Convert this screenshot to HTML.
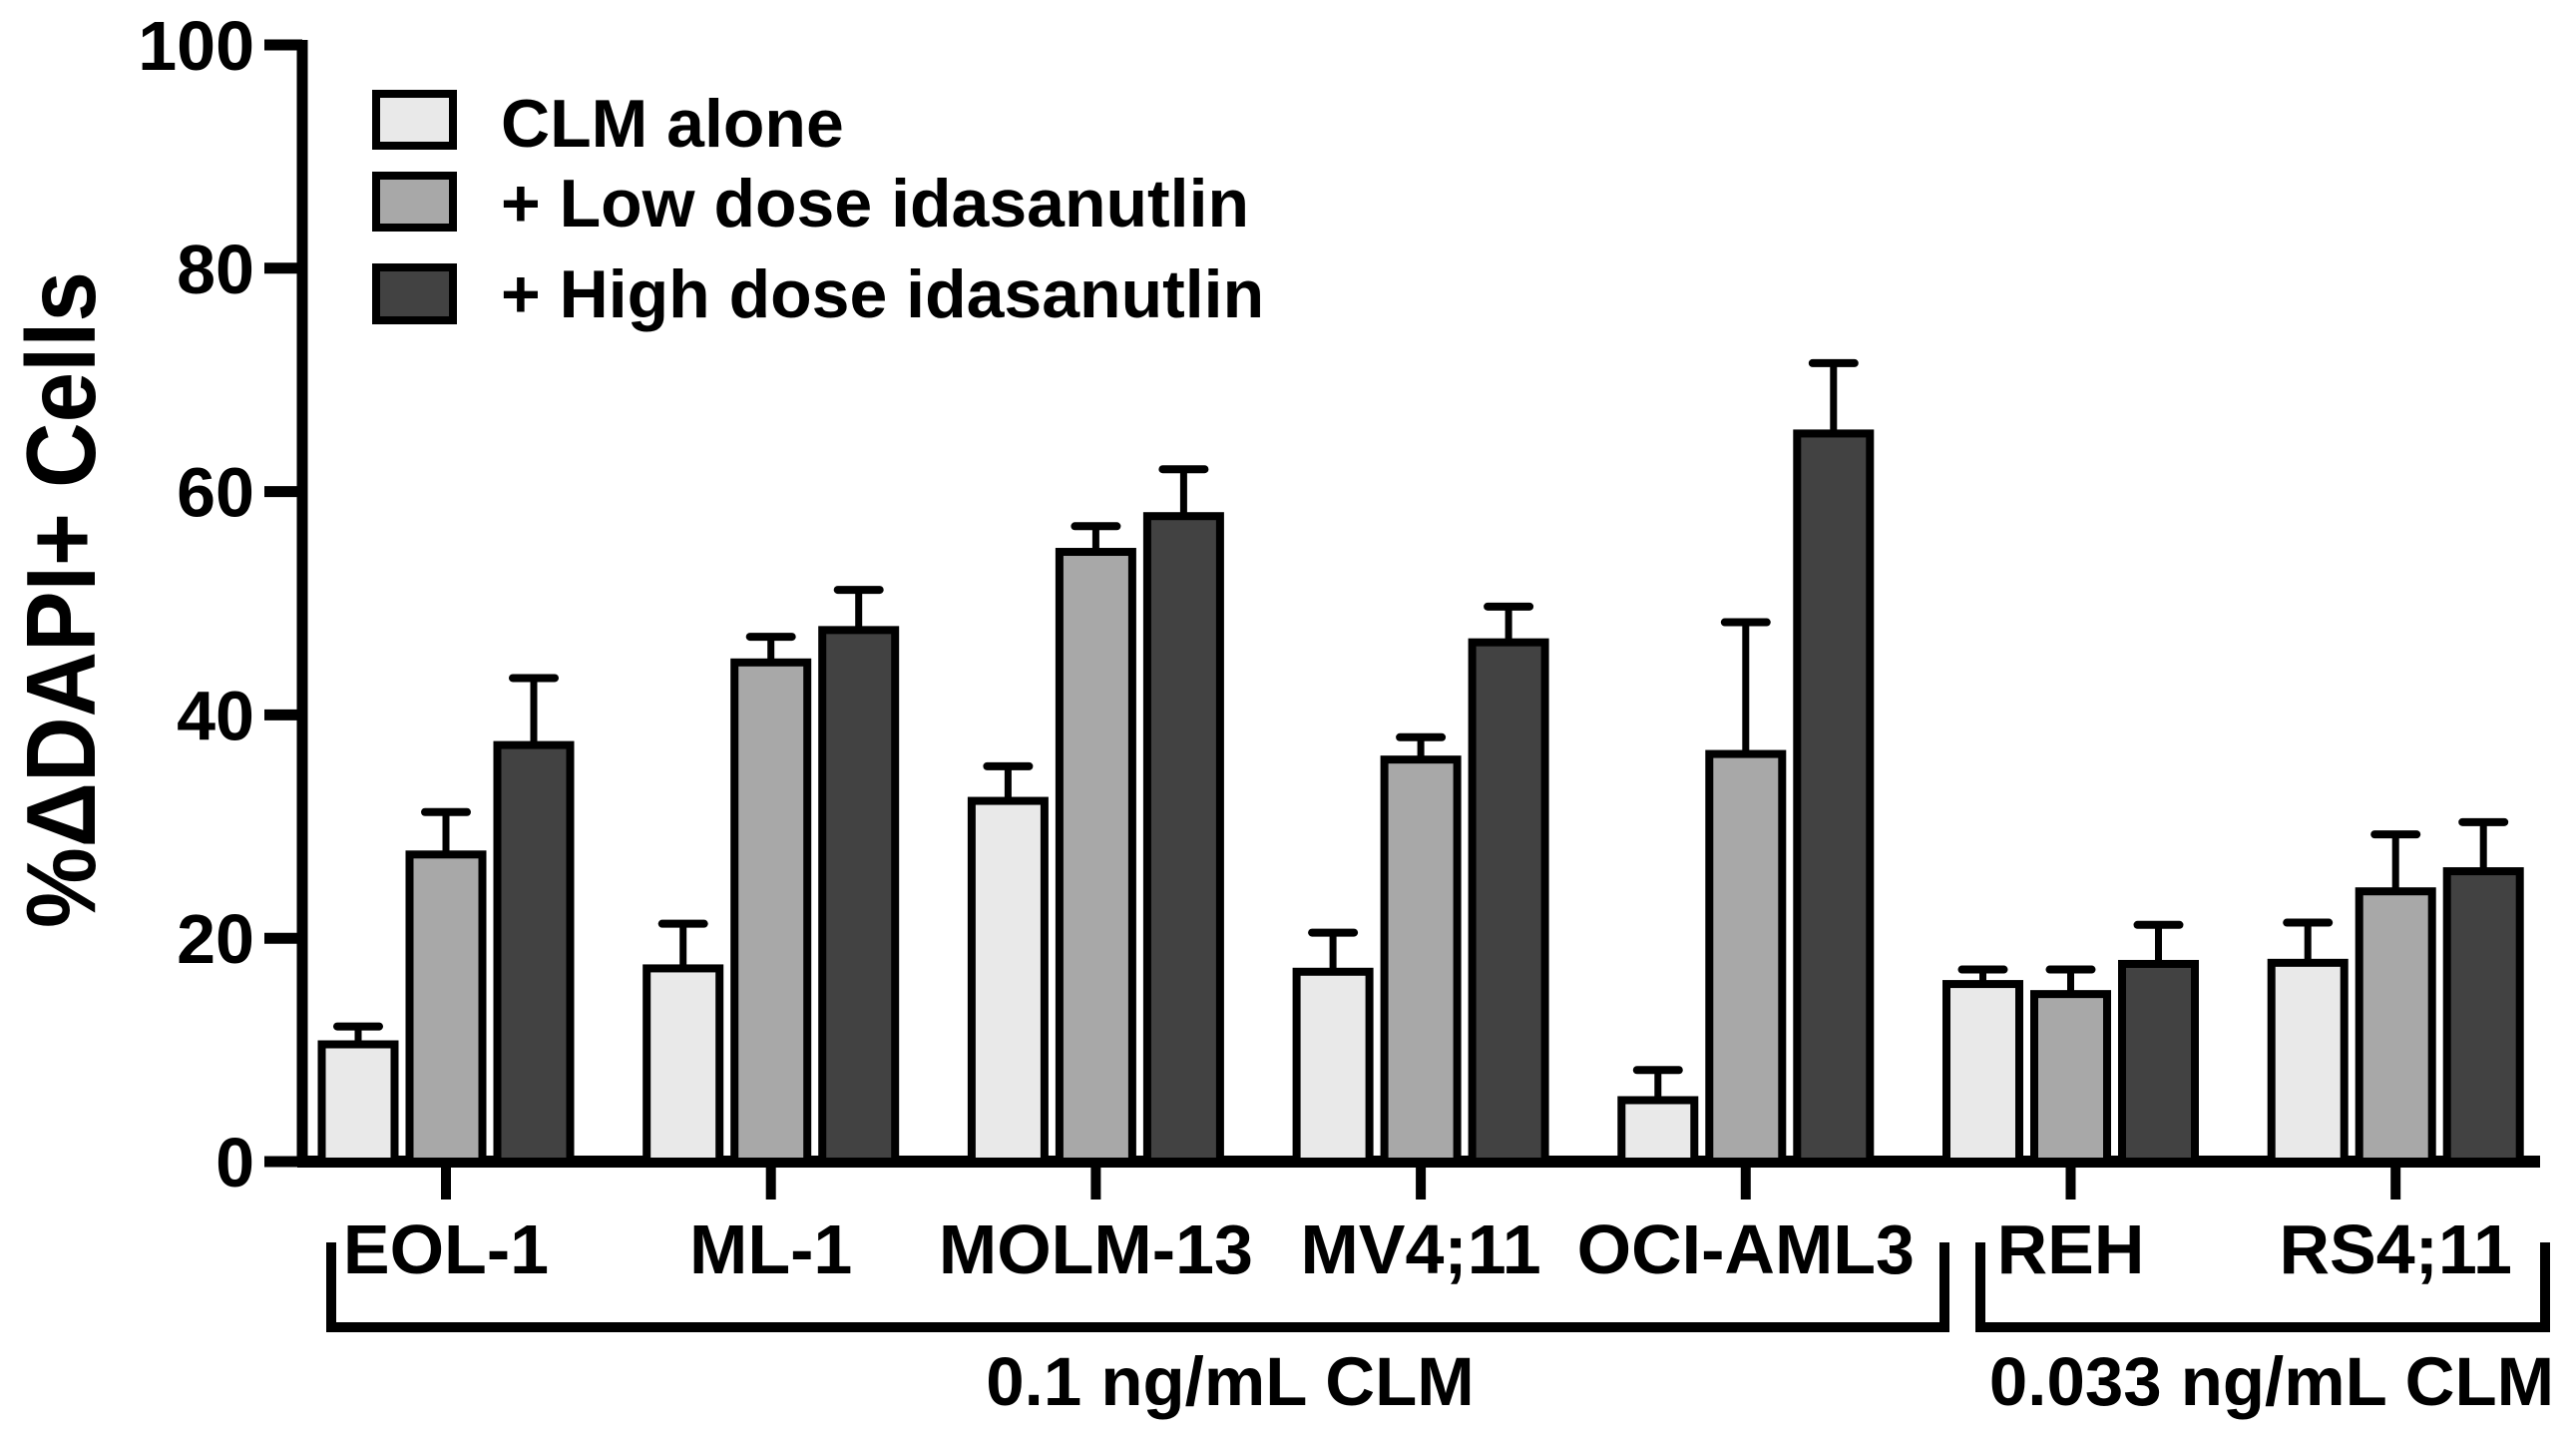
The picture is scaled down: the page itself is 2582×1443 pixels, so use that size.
<!DOCTYPE html>
<html><head><meta charset="utf-8">
<style>
html,body{margin:0;padding:0;background:#fff;}
svg{display:block;font-family:"Liberation Sans",Arial,sans-serif;font-weight:bold;}
</style></head>
<body>
<svg id="chart" width="2582" height="1443" viewBox="0 0 2582 1443" xmlns="http://www.w3.org/2000/svg">
<g id="axes"></g>
<g id="bars"></g>
<g id="labels"></g>
<text transform="translate(95,601) rotate(-90)" text-anchor="middle" font-size="98" textLength="658" lengthAdjust="spacingAndGlyphs">%ΔDAPI+ Cells</text>
<g>
  <rect x="377" y="94" width="77" height="52" fill="#e9e9e9" stroke="#000" stroke-width="8"/>
  <text x="502" y="147" font-size="68">CLM alone</text>
  <rect x="377" y="176" width="77" height="52" fill="#a8a8a8" stroke="#000" stroke-width="8"/>
  <text x="502" y="227" font-size="68">+ Low dose idasanutlin</text>
  <rect x="377" y="268" width="77" height="53" fill="#424242" stroke="#000" stroke-width="8"/>
  <text x="502" y="318" font-size="68">+ High dose idasanutlin</text>
</g>
<g>
  <path d="M332,1245 V1330 H1949 V1245" fill="none" stroke="#000" stroke-width="10"/>
  <path d="M1985,1245 V1330 H2551 V1245" fill="none" stroke="#000" stroke-width="10"/>
  <text x="1233" y="1408" font-size="69" text-anchor="middle">0.1 ng/mL CLM</text>
  <text x="2277" y="1408" font-size="69" text-anchor="middle">0.033 ng/mL CLM</text>
</g>
</svg>
<script>
const categories = ["EOL-1","ML-1","MOLM-13","MV4;11","OCI-AML3","REH","RS4;11"];
const clmAlone = [10.5,17.3,32.3,17.0,5.5,15.9,17.8];
const clmAloneErr = [1.6,4.0,3.1,3.5,2.7,1.3,3.6];
const lowDose = [27.5,44.7,54.6,36.0,36.5,15.0,24.2];
const lowDoseErr = [3.8,2.3,2.3,2.0,11.8,2.2,5.1];
const highDose = [37.3,47.6,57.8,46.5,65.2,17.7,26.0];
const highDoseErr = [6.0,3.6,4.2,3.2,6.3,3.5,4.4];
const yTicks = [0,20,40,60,80,100];

const NS = "http://www.w3.org/2000/svg";
const X0 = 447, PITCH = 325.7, Y0 = 1164, YTOP = 45, YMAX = 100;
const xScale = i => X0 + i*PITCH;
const yScale = v => Y0 - (v/YMAX)*(Y0-YTOP);
function mk(tag, attrs, parent){ const e=document.createElementNS(NS,tag); for(const k in attrs) e.setAttribute(k,attrs[k]); parent.appendChild(e); return e; }

const axes=document.getElementById('axes');
const bars=document.getElementById('bars');
const labels=document.getElementById('labels');

const series=[
 {name:'clm-alone', v:clmAlone, e:clmAloneErr, fill:'#e9e9e9', off:-88},
 {name:'low-dose', v:lowDose, e:lowDoseErr, fill:'#a8a8a8', off:0},
 {name:'high-dose', v:highDose, e:highDoseErr, fill:'#424242', off:88}
];
const BW = 73;
series.forEach(s=>{
  categories.forEach((c,i)=>{
    const cx = xScale(i)+s.off;
    const top = yScale(s.v[i]);
    const eTop = yScale(s.v[i]+s.e[i]);
    const ln = mk('line',{x1:cx,x2:cx,y1:top,y2:eTop,stroke:'#000','stroke-width':7},bars);
    
    
    const cap = mk('line',{x1:cx-21,x2:cx+21,y1:eTop,y2:eTop,stroke:'#000','stroke-width':8,'stroke-linecap':'round'},bars);
    
    
    const r = mk('rect',{x:cx-BW/2,y:top,width:BW,height:Y0-top,fill:s.fill,stroke:'#000','stroke-width':8},bars);
    
    
  });
});

const ya = mk('line',{x1:303,x2:303,y1:YTOP-5,y2:Y0+5,stroke:'#000','stroke-width':11},axes);


const xa = mk('line',{x1:298,x2:2546,y1:Y0,y2:Y0,stroke:'#000','stroke-width':12},axes);


yTicks.forEach(t=>{
  const y=yScale(t);
  const tk=mk('line',{x1:265,x2:303,y1:y,y2:y,stroke:'#000','stroke-width':11},axes);
  
  
  const tx=mk('text',{x:255,y:y+25,'font-size':70,'text-anchor':'end'},labels);
  tx.textContent=t;
  
  
});
categories.forEach((c,i)=>{
  const x=xScale(i);
  const tk=mk('line',{x1:x,x2:x,y1:Y0,y2:1202,stroke:'#000','stroke-width':10},axes);
  
  
  const tx=mk('text',{x:x,y:1276,'font-size':70,'text-anchor':'middle'},labels);
  tx.textContent=c;
  
  
});
</script>
</body></html>
